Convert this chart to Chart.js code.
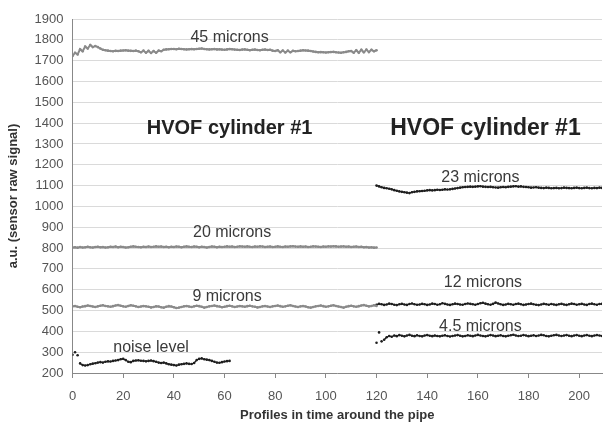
<!DOCTYPE html>
<html>
<head>
<meta charset="utf-8">
<script src="https://cdn.jsdelivr.net/npm/chart.js@4.4.1/dist/chart.umd.min.js"></script>
<style>
  body { margin: 0; background: #fff; }
  #wrap { width: 606px; height: 424px; }
</style>
</head>
<body>
<div id="wrap"><canvas id="chart" width="606" height="424"></canvas></div>
<script>
// first profile index of each run
const startLeft = 0;
const startRight = 120;

// coated cylinder, left half (gray)
const microns45 = [
  1722,1738,1730,1755,1745,1768,1758,1775,1765,1770,
  1765,1758,1752,1750,1748,1746,1745,1747,1746,1748,
  1749,1750,1748,1747,1746,1748,1745,1740,1748,1738,
  1747,1737,1746,1738,1748,1745,1752,1754,1755,1756,
  1756,1755,1757,1756,1755,1754,1755,1756,1755,1756,
  1757,1758,1756,1755,1754,1755,1756,1754,1755,1753,
  1752,1754,1756,1755,1753,1752,1751,1753,1754,1752,
  1750,1752,1753,1751,1750,1752,1753,1751,1752,1748,
  1746,1750,1740,1749,1739,1748,1740,1747,1745,1746,
  1748,1750,1749,1748,1746,1744,1742,1740,1741,1740,
  1739,1740,1741,1742,1740,1739,1738,1740,1742,1745,
  1746,1738,1750,1738,1752,1740,1753,1741,1752,1745,1750
];
const microns20 = [
  803,804,802,805,803,804,806,804,803,805,
  806,804,805,803,804,806,805,807,804,806,
  805,803,804,806,808,806,805,804,806,805,
  807,805,806,808,806,807,805,806,804,806,
  805,807,806,804,806,808,806,805,807,806,
  804,806,805,803,805,807,806,804,806,805,
  806,808,806,807,805,806,808,807,806,808,
  806,805,807,806,808,807,805,806,807,805,
  806,808,806,805,807,806,808,809,807,806,
  808,806,807,805,806,808,807,806,805,807,
  806,808,807,809,808,806,807,808,806,807,
  805,806,807,805,806,804,805,803,804,802,803
];
const microns9 = [
  520,522,518,516,519,521,524,522,519,517,
  520,523,525,522,520,518,521,524,526,523,
  520,518,522,525,523,520,517,519,522,520,
  518,515,517,520,519,516,514,518,521,519,
  516,512,514,517,520,522,519,517,520,523,
  521,518,514,517,520,522,524,521,519,516,
  518,521,523,520,517,519,522,520,518,521,
  523,520,518,515,517,520,522,519,517,520,
  522,524,521,518,520,523,525,522,519,517,
  520,522,519,516,514,517,520,522,524,521,
  518,520,523,525,522,519,517,514,518,521,
  523,520,518,521,524,526,523,520,522,525,522
];
// uncoated reference, left half (black)
const noiseLevel = [
  288,300,285,246,238,236,238,242,245,247,
  250,252,250,254,256,255,258,260,262,266,
  268,262,254,252,258,260,261,259,258,256,
  258,260,257,254,250,248,250,246,242,240,
  238,236,240,242,244,246,244,243,248,262,
  268,270,266,264,262,258,254,250,249,252,
  255,257,258
];
// second cylinder, right half (black)
const microns23 = [
  1100,1096,1092,1089,1087,1085,1082,1078,1075,1072,
  1070,1068,1066,1064,1068,1070,1072,1073,1074,1075,
  1077,1078,1077,1078,1080,1079,1080,1082,1081,1082,
  1084,1086,1088,1090,1092,1093,1094,1095,1094,1095,
  1096,1097,1095,1094,1093,1094,1092,1091,1090,1092,
  1093,1092,1094,1095,1096,1097,1095,1096,1094,1093,
  1092,1090,1091,1092,1090,1089,1088,1090,1089,1087,
  1088,1089,1087,1088,1090,1089,1088,1087,1089,1090,
  1088,1087,1089,1090,1088,1087,1089,1088,1090,1089
];
const microns12 = [
  528,532,530,527,529,533,531,528,526,530,
  532,529,527,531,534,530,528,529,532,530,
  527,529,533,531,528,530,535,532,529,527,
  530,533,531,529,528,531,534,532,530,528,
  531,535,537,533,530,528,532,538,534,530,
  527,529,532,530,528,531,533,530,527,529,
  531,533,530,528,526,529,532,530,528,531,
  529,527,530,532,529,527,530,533,531,528,
  530,532,529,527,531,533,530,528,531,532
];
const microns4_5 = [
  345,395,352,360,372,378,374,380,377,382,
  379,376,380,383,379,377,381,378,376,380,
  382,379,377,380,378,376,379,381,378,375,
  378,380,382,379,376,378,381,379,377,380,
  383,380,378,376,379,382,380,377,379,381,
  378,376,379,381,384,380,378,379,382,380,
  377,379,381,378,380,383,381,378,376,379,
  381,383,380,378,380,382,379,377,380,382,
  379,377,380,382,379,377,380,382,380,378
];

// text written on the plot, in data coordinates
const noteText = ['45 microns', '20 microns', '9 microns', 'noise level', '23 microns', '12 microns', '4.5 microns'];
const noteX = [62, 63, 61, 31, 161, 162, 161];
const noteY = [1810, 875, 568, 322, 1138, 632, 425];
const titleText = ['HVOF cylinder #1', 'HVOF cylinder #1'];
const titleX = [62, 163];
const titleY = [1375, 1375];

const GRAY = '#8a8a8a';
const BLACK = '#1e1e1e';

function toPoints(values, start) {
  return values.map((v, i) => ({ x: start + i, y: v }));
}

// loose: number of leading points drawn as dots only
function series(label, values, start, color, width, loose) {
  return {
    label: label,
    data: toPoints(values, start),
    showLine: true,
    borderColor: color,
    backgroundColor: color,
    borderWidth: width,
    pointRadius: 1.3,
    pointBorderWidth: 0,
    tension: 0,
    segment: {
      borderColor: c => (c.p0DataIndex < (loose || 0) ? 'rgba(0,0,0,0)' : color)
    }
  };
}

const notesPlugin = {
  id: 'notes',
  afterDatasetsDraw(chart) {
    const ctx = chart.ctx;
    const xs = chart.scales.x;
    const ys = chart.scales.y;
    ctx.save();
    ctx.textAlign = 'center';
    ctx.textBaseline = 'middle';
    ctx.fillStyle = '#3a3a3a';
    ctx.font = '16px "Liberation Sans", Arial, sans-serif';
    noteText.forEach((t, i) => {
      ctx.fillText(t, xs.getPixelForValue(noteX[i]), ys.getPixelForValue(noteY[i]));
    });
    ctx.fillStyle = '#222';
    const sizes = [20, 23];
    titleText.forEach((t, i) => {
      ctx.font = 'bold ' + sizes[i] + 'px "Liberation Sans", Arial, sans-serif';
      ctx.fillText(t, xs.getPixelForValue(titleX[i]), ys.getPixelForValue(titleY[i]));
    });
    ctx.restore();
  }
};

new Chart(document.getElementById('chart'), {
  type: 'scatter',
  data: {
    datasets: [
      series('45 microns', microns45, startLeft, GRAY, 2, 0),
      series('20 microns', microns20, startLeft, GRAY, 2, 0),
      series('9 microns', microns9, startLeft, GRAY, 2, 0),
      series('noise level', noiseLevel, startLeft, BLACK, 1.3, 3),
      series('23 microns', microns23, startRight, BLACK, 1.3, 0),
      series('12 microns', microns12, startRight, BLACK, 1.3, 0),
      series('4.5 microns', microns4_5, startRight, BLACK, 1.3, 3)
    ]
  },
  options: {
    responsive: false,
    animation: false,
    devicePixelRatio: 1,
    layout: { padding: { top: 19, right: 0, left: 6, bottom: 0 } },
    plugins: {
      legend: { display: false },
      tooltip: { enabled: false }
    },
    scales: {
      x: {
        type: 'linear',
        min: 0,
        max: 209,
        afterFit: scale => { scale.height = 51; },
        border: { color: '#888', width: 1 },
        grid: { drawOnChartArea: false, drawTicks: true, tickLength: 5, color: '#888' },
        ticks: {
          stepSize: 20,
          includeBounds: false,
          color: '#555',
          padding: 11,
          font: { family: '"Liberation Sans", Arial', size: 13 }
        },
        title: {
          display: true,
          text: 'Profiles in time around the pipe',
          color: '#333',
          padding: { top: 0, bottom: 1 },
          font: { family: '"Liberation Sans", Arial', size: 13, weight: 'bold' }
        }
      },
      y: {
        min: 200,
        max: 1900,
        border: { color: '#888', width: 1 },
        grid: { color: '#dadada', drawTicks: false },
        ticks: {
          stepSize: 100,
          color: '#555',
          padding: 9,
          callback: v => String(v),
          font: { family: '"Liberation Sans", Arial', size: 13 }
        },
        title: {
          display: true,
          text: 'a.u. (sensor raw signal)',
          color: '#333',
          padding: { top: 0, bottom: 4 },
          font: { family: '"Liberation Sans", Arial', size: 13, weight: 'bold' }
        }
      }
    }
  },
  plugins: [notesPlugin]
});
</script>
</body>
</html>
